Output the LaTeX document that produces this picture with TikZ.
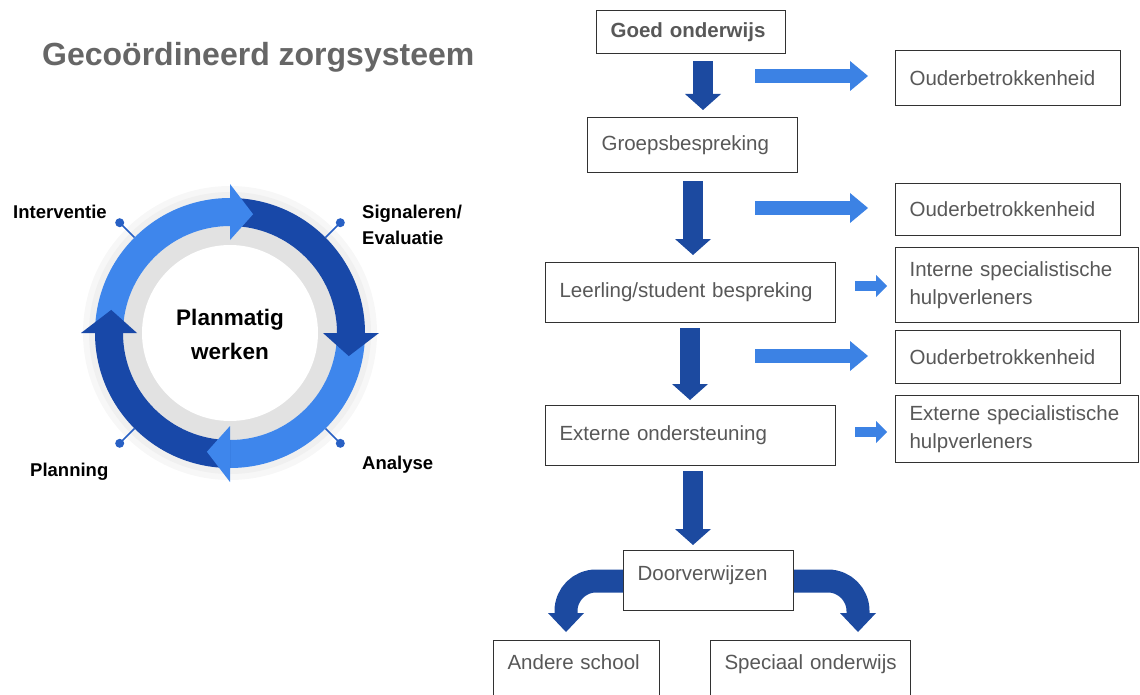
\documentclass[tikz,border=0pt]{standalone}
\usepackage{fontspec}
\setmainfont{Liberation Sans}
\usetikzlibrary{arrows.meta}
\definecolor{darkarrow}{RGB}{28,74,160}
\definecolor{lightarrow}{RGB}{60,130,228}
\definecolor{ringlight}{RGB}{62,134,236}
\definecolor{ringdark}{RGB}{24,72,168}
\definecolor{txtgray}{RGB}{88,88,88}
\definecolor{titlegray}{RGB}{102,102,102}
\definecolor{boxline}{RGB}{50,50,50}
\definecolor{innergray}{RGB}{226,226,226}
\definecolor{dotblue}{RGB}{40,96,196}

% one quarter of the cycle ring, and the arrow head that ends it
\newcommand\ringseg[3]{\fill[#1] (#2:135pt) arc[start angle=#2, end angle=#3, radius=135pt] -- (#3:107pt) arc[start angle=#3, end angle=#2, radius=107pt] -- cycle;}
\newcommand\ringhead[2]{\fill[#1] (#2:149pt) -- ({#2-11}:121pt) -- (#2:93pt) -- cycle;}
\newcommand\ringpin[1]{\draw[dotblue, line width=1.5pt] (#1:135pt) -- (#1:152pt); \fill[dotblue] (#1:156pt) circle (4.5pt);}

\begin{document}
\begin{tikzpicture}[x=1pt,y=-1pt,
  box/.style={draw=boxline, line width=1.1pt, fill=white, anchor=north west,
    inner xsep=14pt, inner ysep=0pt, align=left, text=txtgray,
    font=\fontsize{20.5}{28}\selectfont},
  downarrow/.style={draw=darkarrow, line width=20pt,
    -{Triangle[width=36pt,length=16pt,line width=0pt]}},
  sidearrow/.style={draw=lightarrow, line width=14pt,
    -{Triangle[width=30pt,length=18pt,line width=0pt]}},
  smallarrow/.style={draw=lightarrow, line width=10pt,
    -{Triangle[width=22pt,length=11pt,line width=0pt]}},
  curvearrow/.style={draw=darkarrow, line width=23pt, rounded corners=30pt,
    -{Triangle[width=36pt,length=19pt,line width=0pt]}},
  lbl/.style={anchor=west, inner sep=0pt, text=black, align=left,
    font=\bfseries\fontsize{18.5}{26}\selectfont},
]
\useasboundingbox (0,0) rectangle (1140,695);
\clip (0,0) rectangle (1140,695);

% title
\node[anchor=west, inner sep=0pt, text=titlegray,
  font=\bfseries\fontsize{32}{38}\selectfont] (title) at (42,57) {Gecoördineerd zorgsysteem};

% cycle diagram
\begin{scope}[shift={(230,333)}]
  \fill[gray!6] (0,0) circle (147pt);
  \fill[gray!12] (0,0) circle (141pt);
  \fill[innergray] (0,0) circle (107pt);
  \fill[white] (0,0) circle (88pt);
  \ringpin{45}\ringpin{135}\ringpin{225}\ringpin{315}
  \ringseg{ringlight}{180}{90}
  \ringseg{ringdark}{90}{0}
  \ringseg{ringlight}{0}{-90}
  \ringseg{ringdark}{-90}{-180}
  \ringhead{ringlight}{90}
  \ringhead{ringdark}{0}
  \ringhead{ringlight}{-90}
  \ringhead{ringdark}{180}
\end{scope}
\node[anchor=center, inner sep=0pt, align=center, text=black,
  font=\bfseries\fontsize{22.5}{34}\selectfont] (planmatig) at (230,334) {Planmatig\\werken};
\node[lbl] (interventie) at (13,212) {Interventie};
\node[lbl] (signaleren) at (362,225) {Signaleren/\\Evaluatie};
\node[lbl] (planning) at (30,472) {Planning};
\node[lbl] (analyse) at (362,465) {Analyse};

% flow boxes
\node[box, text width=161pt, minimum height=43pt,
  font=\bfseries\fontsize{20.5}{28}\selectfont] (goed) at (596,10) {Goed onderwijs};
\node[box, text width=182pt, minimum height=55pt] (groeps) at (587,117) {Groepsbespreking};
\node[box, text width=197pt, minimum height=55pt] (ouder1) at (895,50) {Ouderbetrokkenheid};
\node[box, text width=197pt, minimum height=52pt] (ouder2) at (895,183) {Ouderbetrokkenheid};
\node[box, text width=262pt, minimum height=60pt] (leerling) at (545,262) {Leerling/student bespreking};
\node[box, text width=215pt, minimum height=75pt] (interne) at (895,247) {Interne specialistische\\hulpverleners};
\node[box, text width=197pt, minimum height=53pt] (ouder3) at (895,330) {Ouderbetrokkenheid};
\node[box, text width=262pt, minimum height=60pt] (extond) at (545,405) {Externe ondersteuning};
\node[box, text width=215pt, minimum height=67pt] (extspec) at (895,395) {Externe specialistische\\hulpverleners};
\node[box, text width=142pt, text height=30pt, text depth=30pt] (door) at (623,550) {Doorverwijzen};
\node[box, text width=138pt, text height=29pt, text depth=41pt] (andere) at (493,640) {Andere school};
\node[box, text width=172pt, text height=29pt, text depth=41pt] (speciaal) at (710,640) {\mbox{Speciaal onderwijs}};

% main downward flow
\coordinate (d1) at (703,0);
\coordinate (d2) at (693,0);
\coordinate (d3) at (690,0);
\coordinate (d4) at (693,0);
\draw[downarrow, shorten <=7pt, shorten >=7pt] (goed.south -| d1) -- (groeps.north -| d1);
\draw[downarrow, shorten <=8pt, shorten >=7pt] (groeps.south -| d2) -- (leerling.north -| d2);
\draw[downarrow, shorten <=5pt, shorten >=5pt] (leerling.south -| d3) -- (extond.north -| d3);
\draw[downarrow, shorten <=5pt, shorten >=5pt] (extond.south -| d4) -- (door.north -| d4);

% side branches
\coordinate (h1) at (755,76);
\coordinate (h2) at (755,208);
\coordinate (h3) at (755,356);
\draw[sidearrow, shorten >=27pt] (h1) -- (h1 -| ouder1.west);
\draw[sidearrow, shorten >=27pt] (h2) -- (h2 -| ouder2.west);
\draw[sidearrow, shorten >=27pt] (h3) -- (h3 -| ouder3.west);
\coordinate (s1) at (855,286);
\coordinate (s2) at (855,432);
\draw[smallarrow, shorten >=8pt] (s1) -- (s1 -| interne.west);
\draw[smallarrow, shorten >=8pt] (s2) -- (s2 -| extspec.west);

% referral split
\coordinate (lbend) at (566,581);
\coordinate (rbend) at (858,581);
\draw[curvearrow, shorten >=8pt] (door.west |- lbend) -- (lbend) -- (lbend |- andere.north);
\draw[curvearrow, shorten >=8pt] (door.east |- rbend) -- (rbend) -- (rbend |- speciaal.north);
\end{tikzpicture}
\end{document}
